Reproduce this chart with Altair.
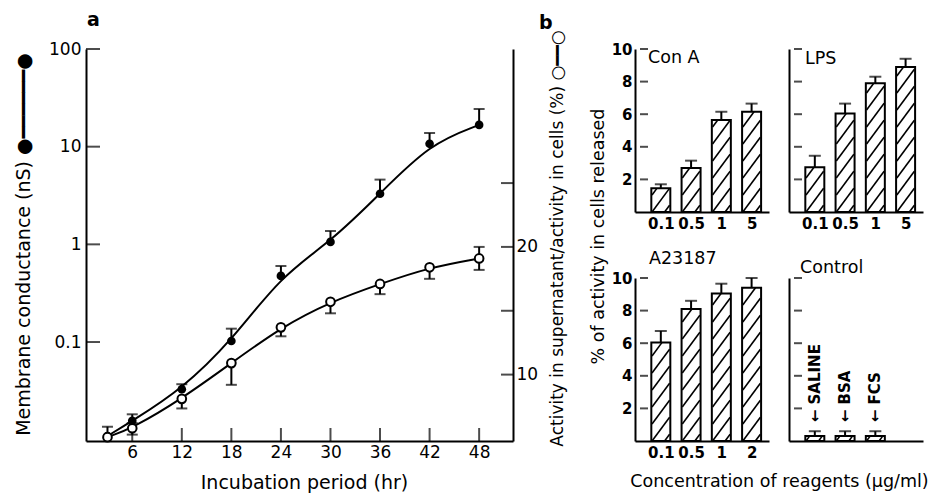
import altair as alt
import pandas as pd

FONT = "DejaVu Sans"

# ---------------- panel a data ----------------
hours = [3, 6, 12, 18, 24, 30, 36, 42, 48]
conductance = [0.0109, 0.0156, 0.0329, 0.1025, 0.475, 1.06, 3.3, 10.7, 16.7]
conductance_err = [0.0136, 0.0182, 0.037, 0.137, 0.60, 1.37, 4.6, 13.8, 24.3]
release = [5.1, 5.8, 8.1, 10.9, 13.7, 15.7, 17.1, 18.4, 19.1]
release_lo = [5.1, 5.3, 7.35, 9.2, 13.0, 14.8, 16.3, 17.5, 18.2]
release_hi = [5.1, 6.2, 8.1, 10.9, 13.7, 15.7, 17.1, 18.4, 20.0]

hour_ticks = [6, 12, 18, 24, 30, 36, 42, 48]
cond_ticks = [0.1, 1, 10, 100]
rel_ticks = [10, 15, 20, 25]

# ---------------- panel b data ----------------
labels_conA = ["0.1", "0.5", "1", "5"]
conA = [1.45, 2.7, 5.65, 6.15]
conA_err = [1.7, 3.15, 6.15, 6.65]
labels_lps = ["0.1", "0.5", "1", "5"]
lps = [2.75, 6.05, 7.9, 8.9]
lps_err = [3.45, 6.65, 8.3, 9.4]
labels_a23 = ["0.1", "0.5", "1", "2"]
a23 = [6.05, 8.1, 9.05, 9.4]
a23_err = [6.75, 8.6, 9.65, 10.0]
labels_control = ["SALINE", "BSA", "FCS"]
control = [0.3, 0.3, 0.3]
control_err = [0.6, 0.6, 0.6]
pct_ticks = [2, 4, 6, 8, 10]

# ---------------- layout constants ----------------
A_W, A_H = 427, 392
X_DOM = [0.4, 52.1]
YL_DOM = [0.0097, 100]
YR_DOM = [4.8, 35.5]

B_W, B_H = 134, 163
BX_DOM = [0.312, 4.41]
BY_DOM = [0, 10]
BAR_W = 19

# ---------------- panel a ----------------
dfa = pd.DataFrame({"h": hours, "c": conductance, "ce": conductance_err,
                    "r": release, "rlo": release_lo, "rhi": release_hi})
xs = alt.Scale(domain=X_DOM, nice=False, zero=False)
yls = alt.Scale(type="log", domain=YL_DOM, nice=False)
yrs = alt.Scale(domain=YR_DOM, nice=False, zero=False)

x_axis = alt.Axis(values=hour_ticks, ticks=False, labelPadding=3, labelFontSize=17,
                  title="Incubation period (hr)", titleFontSize=19, titleY=41, titleX=218,
                  titleAlign="center", titleBaseline="middle", grid=False)
yl_axis = alt.Axis(values=cond_ticks, format="~g", ticks=False, labelPadding=5,
                   labelFontSize=17,
                   title="Membrane conductance (nS)  \u25cf" + "\u2501" * 6 + "\u25cf",
                   titleFontSize=19, titleAngle=270, titleX=-63, titleY=195,
                   titleAlign="center", titleBaseline="middle", grid=False)
yr_axis = alt.Axis(values=rel_ticks, orient="right", ticks=False, labelPadding=3,
                   labelFontSize=17,
                   labelExpr="datum.value == 10 || datum.value == 20 ? datum.label : ''",
                   title="Activity in supernatant/activity in cells (%)  \u25cb\u2501\u2501\u25cb",
                   titleFontSize=17, titleAngle=270, titleX=44, titleY=189,
                   titleAlign="center", titleBaseline="middle", grid=False)


def XA(f):
    return alt.X(f, scale=xs, axis=x_axis)


def YL(f):
    return alt.Y(f, scale=yls, axis=yl_axis)


def YR(f):
    return alt.Y(f, scale=yrs, axis=yr_axis)


base = alt.Chart(dfa)
line_c = base.mark_line(interpolate="basis", color="black", strokeWidth=2).encode(
    x=XA("h:Q"), y=YL("c:Q"))
err_c = base.mark_rule(color="black", strokeWidth=2).encode(
    x=XA("h:Q"), y=YL("c:Q"), y2="ce:Q")
cap_c = base.mark_tick(orient="horizontal", size=11, thickness=2, color="black").encode(
    x=XA("h:Q"), y=YL("ce:Q"))
pts_c = base.mark_point(filled=True, size=75, color="black", opacity=1).encode(
    x=XA("h:Q"), y=YL("c:Q"))

lt_df = pd.DataFrame({"t": cond_ticks, "x": [X_DOM[0]] * len(cond_ticks)})
left_ticks = alt.Chart(lt_df).mark_tick(orient="horizontal", size=14, thickness=2,
                                        xOffset=7, color="black").encode(
    x=XA("x:Q"), y=YL("t:Q"))
bt_df = pd.DataFrame({"h": hour_ticks, "y": [YL_DOM[0]] * len(hour_ticks)})
bottom_ticks = alt.Chart(bt_df).mark_tick(orient="vertical", size=13, thickness=2,
                                          yOffset=-6.5, color="black").encode(
    x=XA("h:Q"), y=YL("y:Q"))
lab_a = alt.Chart(pd.DataFrame({"t": ["a"], "x": [X_DOM[0]], "y": [YL_DOM[1]]})).mark_text(
    align="left", baseline="alphabetic", dx=1, dy=-23, fontSize=19, fontWeight="bold",
    font=FONT, color="black").encode(x=XA("x:Q"), y=YL("y:Q"), text="t:N")

group_closed = alt.layer(line_c, err_c, cap_c, pts_c, left_ticks, bottom_ticks, lab_a)

line_r = base.mark_line(interpolate="basis", color="black", strokeWidth=2).encode(
    x=XA("h:Q"), y=YR("r:Q"))
dfe = dfa[dfa["rlo"] < dfa["r"]]
err_rlo = alt.Chart(dfe).mark_rule(color="black", strokeWidth=2).encode(
    x=XA("h:Q"), y=YR("r:Q"), y2="rlo:Q")
cap_rlo = alt.Chart(dfe).mark_tick(orient="horizontal", size=11, thickness=2,
                                   color="black").encode(x=XA("h:Q"), y=YR("rlo:Q"))
dfh = dfa[dfa["rhi"] > dfa["r"]]
err_rhi = alt.Chart(dfh).mark_rule(color="black", strokeWidth=2).encode(
    x=XA("h:Q"), y=YR("r:Q"), y2="rhi:Q")
cap_rhi = alt.Chart(dfh).mark_tick(orient="horizontal", size=11, thickness=2,
                                   color="black").encode(x=XA("h:Q"), y=YR("rhi:Q"))
pts_r = base.mark_point(filled=True, fill="white", stroke="black", strokeWidth=2,
                        size=75, opacity=1).encode(x=XA("h:Q"), y=YR("r:Q"))
rt_df = pd.DataFrame({"t": rel_ticks, "x": [X_DOM[1]] * len(rel_ticks)})
right_ticks = alt.Chart(rt_df).mark_tick(orient="horizontal", size=12, thickness=2,
                                         xOffset=-6, color="black").encode(
    x=XA("x:Q"), y=YR("t:Q"))

group_open = alt.layer(line_r, err_rlo, cap_rlo, err_rhi, cap_rhi, pts_r, right_ticks)

panel_a = alt.layer(group_closed, group_open).resolve_scale(y="independent").properties(
    width=A_W, height=A_H)

# ---------------- panel b ----------------
PX_X = B_W / (BX_DOM[1] - BX_DOM[0])
PX_Y = B_H / (BY_DOM[1] - BY_DOM[0])


def hatch(vals):
    rows = []
    half = BAR_W / 2 / PX_X
    rise = 1.25 * BAR_W / PX_Y
    step = 17 / PX_Y
    for i, v in enumerate(vals, start=1):
        x0, x1 = i - half, i + half
        k = -rise + 0.4 * step
        while k < v:
            t0 = max(0.0, (0 - k) / rise)
            t1 = min(1.0, (v - k) / rise)
            if t1 > t0:
                rows.append({"x": x0 + (x1 - x0) * t0, "x2": x0 + (x1 - x0) * t1,
                             "y": k + rise * t0, "y2": k + rise * t1})
            k += step
    return pd.DataFrame(rows)


def bar_panel(labels, vals, errs, name, name_dx, name_dy, left_labels, x_labels=True,
              arrows=False, y_title=None, x_title=None, extra_label=None):
    n = len(vals)
    idx = list(range(1, n + 1))
    df = pd.DataFrame({"i": idx, "lab": labels, "v": vals, "e": errs,
                       "txt": ["\u2190 " + l for l in labels]})
    xsc = alt.Scale(domain=BX_DOM, nice=False, zero=False)
    ysc = alt.Scale(domain=BY_DOM, nice=False)
    lab_expr = "[" + ",".join("'%s'" % l for l in labels) + "][datum.value - 1]"
    xa_kw = dict(values=idx, labelExpr=lab_expr, ticks=False, labels=x_labels,
                 labelFontSize=15, labelFontWeight="bold", labelPadding=4, grid=False)
    if x_title:
        xa_kw.update(title=x_title, titleFontSize=17.5, titleX=144, titleY=40,
                     titleAlign="center", titleBaseline="middle")
    else:
        xa_kw.update(title=None)
    ya_kw = dict(values=pct_ticks, ticks=False, labels=left_labels, labelFontSize=15,
                 labelFontWeight="bold", labelPadding=3, grid=False)
    if y_title:
        ya_kw.update(title=y_title, titleFontSize=17.5, titleAngle=270, titleX=-37,
                     titleY=187, titleAlign="center", titleBaseline="middle")
    else:
        ya_kw.update(title=None)
    xax = alt.Axis(**xa_kw)
    yax = alt.Axis(**ya_kw)

    def X(f):
        return alt.X(f, scale=xsc, axis=xax)

    def Y(f):
        return alt.Y(f, scale=ysc, axis=yax)

    layers = [alt.Chart(df).mark_bar(size=BAR_W, fill="white", stroke="black",
                                     strokeWidth=2).encode(x=X("i:Q"), y=Y("v:Q"))]
    hdf = hatch(vals)
    if len(hdf):
        layers.append(alt.Chart(hdf).mark_rule(color="black", strokeWidth=1.6).encode(
            x=X("x:Q"), x2="x2:Q", y=Y("y:Q"), y2="y2:Q"))
    layers.append(alt.Chart(df).mark_rule(color="black", strokeWidth=2).encode(
        x=X("i:Q"), y=Y("v:Q"), y2="e:Q"))
    layers.append(alt.Chart(df).mark_tick(orient="horizontal", size=12, thickness=2,
                                          color="black").encode(x=X("i:Q"), y=Y("e:Q")))
    tdf = pd.DataFrame({"t": pct_ticks, "x": [BX_DOM[0]] * len(pct_ticks)})
    layers.append(alt.Chart(tdf).mark_tick(orient="horizontal", size=8, thickness=2,
                                           xOffset=4, color="black").encode(
        x=X("x:Q"), y=Y("t:Q")))
    ndf = pd.DataFrame({"t": [name], "x": [BX_DOM[0]], "y": [BY_DOM[1]]})
    layers.append(alt.Chart(ndf).mark_text(align="left", baseline="alphabetic",
                                           dx=name_dx, dy=name_dy, fontSize=17.5,
                                           font=FONT, color="black").encode(
        x=X("x:Q"), y=Y("y:Q"), text="t:N"))
    if extra_label:
        edf = pd.DataFrame({"t": [extra_label[0]], "x": [BX_DOM[0]], "y": [BY_DOM[1]]})
        layers.append(alt.Chart(edf).mark_text(align="left", baseline="alphabetic",
                                               dx=extra_label[1], dy=extra_label[2],
                                               fontSize=19, fontWeight="bold",
                                               font=FONT, color="black").encode(
            x=X("x:Q"), y=Y("y:Q"), text="t:N"))
    if arrows:
        layers.append(alt.Chart(df).mark_text(angle=270, align="left", baseline="middle",
                                              fontSize=15, fontWeight="bold", font=FONT,
                                              yOffset=-9, color="black").encode(
            x=X("i:Q"), y=Y("e:Q"), text="txt:N"))
    return alt.layer(*layers).properties(width=B_W, height=B_H)


p_conA = bar_panel(labels_conA, conA, conA_err, "Con A", 8, 14, True,
                   y_title="% of activity in cells released", extra_label=("b", -101, -20))
p_lps = bar_panel(labels_lps, lps, lps_err, "LPS", 11, 15, False)
p_a23 = bar_panel(labels_a23, a23, a23_err, "A23187", 9, -14, True,
                  x_title="Concentration of reagents (\u03bcg/ml)")
p_ctl = bar_panel(labels_control, control, control_err, "Control", 6, -5, False,
                  x_labels=False, arrows=True)

row1 = alt.hconcat(p_conA, p_lps, spacing=20, bounds="flush")
row2 = alt.hconcat(p_a23, p_ctl, spacing=20, bounds="flush")
# nested rows have no size of their own under flush bounds, so spacing is the row offset
panel_b = alt.vconcat(row1, row2, spacing=229, bounds="flush")

chart = alt.hconcat(panel_a, panel_b, spacing=122, bounds="flush").properties(
    padding={"left": 5, "top": 3, "right": 0, "bottom": 3}
).configure_view(
    stroke=None
).configure_axis(
    domainColor="black", domainWidth=2, labelColor="black", titleColor="black",
    labelFont=FONT, titleFont=FONT, titleFontWeight="normal", grid=False
).configure_text(font=FONT)

chart.save("out.html", embed_options={"renderer": "svg", "actions": False})
